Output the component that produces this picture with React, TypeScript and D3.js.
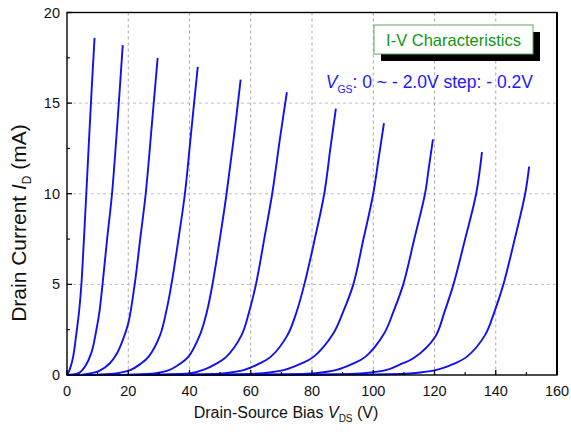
import React from "react";
import * as d3 from "d3";

const xTicks = [0, 20, 40, 60, 80, 100, 120, 140, 160];
const xMinorTicks = [10, 30, 50, 70, 90, 110, 130, 150];
const yTicks = [0, 5, 10, 15, 20];
const yMinorTicks = [2.5, 7.5, 12.5, 17.5];
const xGrid = [20, 40, 60, 80, 100, 120, 140];
const yGrid = [5, 10, 15];

const vgsValues = [0, -0.2, -0.4, -0.6, -0.8, -1.0, -1.2, -1.4, -1.6, -1.8, -2.0];

const curveVds: number[][] = [
  [0, 0.5, 1, 2, 3, 4, 4.7, 5.5, 6.3, 7.2, 8.1, 9],
  [0, 2, 4, 6, 8, 9.5, 10.6, 11.6, 13.1, 14.7, 16.5, 18.2],
  [0, 5, 8, 10.7, 14, 16, 17.8, 20, 22.1, 23.9, 25.7, 27.7, 29.6],
  [0, 10, 16.5, 20.8, 23.9, 26.6, 30.4, 32.4, 34.1, 36.4, 38.5, 40.6, 42.7],
  [0, 20, 29.1, 33.5, 36.7, 39.6, 43.6, 45.7, 47.5, 49.9, 52.1, 54.4, 56.7],
  [0, 28, 40.4, 44.5, 48.5, 52, 57, 59.5, 61.7, 64.4, 67, 69.5, 71.8],
  [0, 35, 51.6, 57.9, 62.4, 66.5, 72, 75, 77.5, 80.9, 84, 86, 87.8],
  [0, 45, 64, 71, 76, 80.5, 87, 90.2, 93.5, 96.8, 100, 101.8, 103.5],
  [0, 60, 81, 88, 93, 97.4, 103.6, 106.6, 109.8, 113.4, 116.9, 118.2, 119.5],
  [0, 75, 97, 104.4, 109, 113.1, 120.2, 123.3, 126.2, 130, 133.6, 135.5],
  [0, 90, 113, 120.7, 126, 130.5, 136.5, 139.6, 142.5, 146.2, 149.6, 150.9],
];

const curveId: number[][] = [
  [0, 0.15, 0.35, 1.0, 2.2, 3.6, 5, 7.4, 10, 13, 15.9, 18.6],
  [0, 0.03, 0.12, 0.5, 1.25, 2.4, 3.5, 5, 7.5, 10, 14, 18.2],
  [0, 0.02, 0.1, 0.24, 0.65, 1.1, 1.75, 2.85, 5, 7.5, 10, 13.8, 17.5],
  [0, 0.02, 0.1, 0.28, 0.6, 1.0, 2.2, 3.5, 5, 7.5, 10, 13.5, 17],
  [0, 0.02, 0.1, 0.28, 0.6, 1.0, 2.3, 3.5, 5, 7.5, 10, 13, 16.3],
  [0, 0.02, 0.1, 0.28, 0.6, 1.0, 2.2, 3.5, 5, 7.5, 10, 13, 15.6],
  [0, 0.02, 0.1, 0.28, 0.6, 1.0, 2.2, 3.5, 5, 7.5, 10, 12.5, 14.7],
  [0, 0.02, 0.1, 0.28, 0.6, 1.0, 2.3, 3.5, 5, 7.5, 10, 12, 13.9],
  [0, 0.02, 0.1, 0.28, 0.6, 1.0, 2.3, 3.5, 5, 7.5, 10, 11.5, 13],
  [0, 0.02, 0.1, 0.28, 0.6, 0.92, 2.1, 3.5, 5, 7.5, 10, 12.3],
  [0, 0.02, 0.1, 0.28, 0.6, 1.0, 2.2, 3.5, 5, 7.5, 10, 11.5],
];

const W = 571;
const H = 435;
const L = 67;
const R = 557;
const T = 12.5;
const B = 375;
const FONT = "'Liberation Sans', Arial, Helvetica, sans-serif";

export default function App() {
  const x = d3.scaleLinear().domain([0, 160]).range([L, R]);
  const y = d3.scaleLinear().domain([0, 20]).range([B, T]);
  const line = d3
    .line<[number, number]>()
    .x((d) => x(d[0]))
    .y((d) => y(d[1]))
    .curve(d3.curveCatmullRom.alpha(0.5));

  return (
    <div style={{ position: "absolute", left: 0, top: 0 }}>
      <svg width={W} height={H} style={{ display: "block", background: "#fff" }} fontFamily={FONT}>
        <rect x={0} y={0} width={W} height={H} fill="#fff" />
        {/* grid */}
        {xGrid.map((v) => (
          <line key={"gx" + v} x1={x(v)} x2={x(v)} y1={T} y2={B} stroke="#a8a8a8" strokeWidth={1} strokeDasharray="3,3" />
        ))}
        {yGrid.map((v) => (
          <line key={"gy" + v} x1={L} x2={R} y1={y(v)} y2={y(v)} stroke="#c0c0c0" strokeWidth={1} strokeDasharray="3,3" />
        ))}
        {/* curves */}
        {curveVds.map((vs, i) => {
          const pts: [number, number][] = vs.map((v, j) => [v, curveId[i][j]]);
          return (
            <path key={"c" + vgsValues[i]} d={line(pts) || ""} fill="none" stroke="#1010f5" strokeWidth={1.9} strokeLinejoin="round" />
          );
        })}
        {/* frame */}
        <rect x={L} y={T} width={R - L} height={B - T} fill="none" stroke="#000" strokeWidth={1.4} />
        <line x1={R} x2={R} y1={T} y2={B} stroke="#000" strokeWidth={2} />
        {/* x ticks */}
        {xTicks.map((v) => (
          <g key={"xt" + v}>
            <line x1={x(v)} x2={x(v)} y1={B} y2={B - 5} stroke="#000" strokeWidth={1.3} />
            <text x={x(v)} y={396} fontSize={14.5} textAnchor="middle" fill="#111">
              {v}
            </text>
          </g>
        ))}
        {xMinorTicks.map((v) => (
          <line key={"xm" + v} x1={x(v)} x2={x(v)} y1={B} y2={B - 3} stroke="#000" strokeWidth={1.1} />
        ))}
        {/* y ticks */}
        {yTicks.map((v) => (
          <g key={"yt" + v}>
            <line x1={L} x2={L + 5} y1={y(v)} y2={y(v)} stroke="#000" strokeWidth={1.3} />
            <text x={60} y={y(v) + 5} fontSize={14.5} textAnchor="end" fill="#111">
              {v}
            </text>
          </g>
        ))}
        {yMinorTicks.map((v) => (
          <line key={"ym" + v} x1={L} x2={L + 3} y1={y(v)} y2={y(v)} stroke="#000" strokeWidth={1.1} />
        ))}
        {/* axis titles */}
        <text x={286} y={418} fontSize={16} textAnchor="middle" fill="#111">
          Drain-Source Bias <tspan fontStyle="italic">V</tspan>
          <tspan fontSize={10} dy={4}>DS</tspan>
          <tspan dy={-4}> (V)</tspan>
        </text>
        <text transform={`translate(26,223) rotate(-90)`} fontSize={21} textAnchor="middle" fill="#111">
          Drain Current <tspan fontStyle="italic">I</tspan>
          <tspan fontSize={12} dy={5}>D</tspan>
          <tspan dy={-5}> (mA)</tspan>
        </text>
        {/* legend box */}
        <rect x={381} y={32} width={159} height={29} fill="#000" />
        <rect x={374} y={25} width={159} height={29} fill="#fff" stroke="#5aa85a" strokeWidth={1} />
        <text x={453.5} y={46} fontSize={16.5} textAnchor="middle" fill="#129612">
          I-V Characteristics
        </text>
        <text x={533} y={88} fontSize={17.5} textAnchor="end" fill="#1a1aff">
          <tspan fontStyle="italic">V</tspan>
          <tspan fontSize={10.5} dy={5}>GS</tspan>
          <tspan dy={-5}>: 0 ~ - 2.0V step: - 0.2V</tspan>
        </text>
      </svg>
    </div>
  );
}
